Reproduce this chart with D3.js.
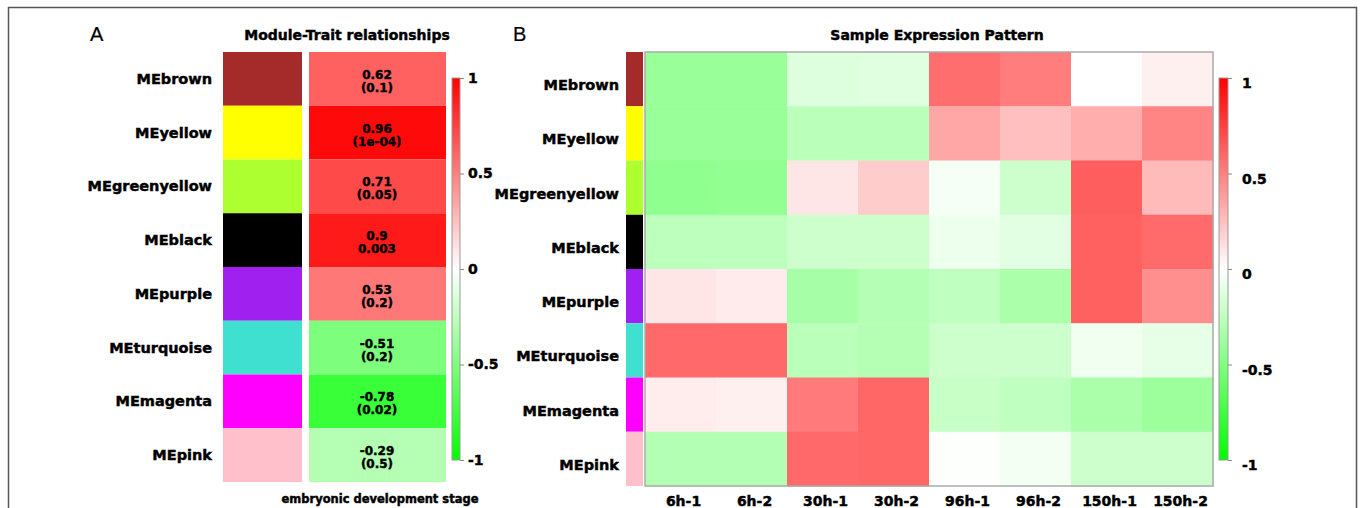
<!DOCTYPE html>
<html>
<head>
<meta charset="utf-8">
<script src="https://cdn.jsdelivr.net/npm/d3@7/dist/d3.min.js"></script>
<style>
  body { margin: 0; background: #fff; }
  text { font-family: "DejaVu Sans", sans-serif; font-weight: bold; fill: #000; stroke: #000; stroke-width: 0.45px; }
  .panel-letter { font-family: "Liberation Sans", Arial, sans-serif; font-weight: normal; font-size: 20px; stroke-width: 0.2px; }
</style>
</head>
<body>
<script>
// module eigengenes
var modules = ["MEbrown", "MEyellow", "MEgreenyellow", "MEblack", "MEpurple", "MEturquoise", "MEmagenta", "MEpink"];
var moduleColors = ["#A52A2A", "#FFFF00", "#ADFF2F", "#000000", "#A020F0", "#40E0D0", "#FF00FF", "#FFC0CB"];

// panel A: correlation with embryonic development stage, and p value labels
var traitCor = [0.62, 0.96, 0.71, 0.9, 0.53, -0.51, -0.78, -0.29];
var traitP = ["(0.1)", "(1e-04)", "(0.05)", "0.003", "(0.2)", "(0.2)", "(0.02)", "(0.5)"];

// panel B: samples and eigengene expression per module
var samples = ["6h-1", "6h-2", "30h-1", "30h-2", "96h-1", "96h-2", "150h-1", "150h-2"];
var exprBrown       = [-0.40, -0.40, -0.13, -0.12,  0.57,  0.51,  0.00,  0.06];
var exprYellow      = [-0.40, -0.40, -0.27, -0.27,  0.35,  0.25,  0.32,  0.48];
var exprGreenyellow = [-0.44, -0.43,  0.10,  0.20, -0.04, -0.20,  0.63,  0.27];
var exprBlack       = [-0.26, -0.26, -0.20, -0.20, -0.07, -0.11,  0.62,  0.58];
var exprPurple      = [ 0.10,  0.08, -0.35, -0.30, -0.25, -0.33,  0.62,  0.44];
var exprTurquoise   = [ 0.59,  0.59, -0.27, -0.29, -0.20, -0.20, -0.06, -0.10];
var exprMagenta     = [ 0.07,  0.06,  0.52,  0.60, -0.22, -0.25, -0.33, -0.39];
var exprPink        = [-0.30, -0.30,  0.59,  0.60, -0.01, -0.05, -0.20, -0.20];
var expression = [exprBrown, exprYellow, exprGreenyellow, exprBlack, exprPurple, exprTurquoise, exprMagenta, exprPink];

var legendTicks = [1, 0.5, 0, -0.5, -1];

var W = 1360, H = 508;

var svg = d3.select("body").append("svg")
  .attr("width", W)
  .attr("height", H);

// frame
svg.append("path")
  .attr("d", "M8.5," + H + "V7.5H1356.5V" + H)
  .attr("fill", "none")
  .attr("stroke", "#555")
  .attr("stroke-width", 1.5);

var color = d3.scaleLinear()
  .domain([-1, 0, 1])
  .range(["#00FF00", "#FFFFFF", "#FF0000"]);

function colorBar(id, x, w, labelGap, labelDy) {
  var grad = svg.append("defs").append("linearGradient")
    .attr("id", id)
    .attr("x1", 0).attr("x2", 0).attr("y1", 1).attr("y2", 0);
  d3.range(0, 1.0001, 0.1).forEach(function (t) {
    grad.append("stop").attr("offset", t).attr("stop-color", color(-1 + 2 * t));
  });
  var y = d3.scaleLinear().domain([-1, 1]).range([460, 78]);
  svg.append("rect")
    .attr("x", x).attr("y", y(1))
    .attr("width", w).attr("height", y(-1) - y(1))
    .attr("fill", "url(#" + id + ")")
    .attr("stroke", "#999")
    .attr("stroke-width", 1);
  var ax = svg.append("g")
    .attr("transform", "translate(" + (x + w) + ",0)")
    .call(d3.axisRight(y).tickValues(legendTicks).tickSize(4).tickPadding(labelGap)
      .tickFormat(function (d) { return String(d); }));
  ax.select(".domain").remove();
  ax.selectAll(".tick line").attr("stroke", "#888");
  ax.selectAll(".tick text")
    .attr("font-family", "DejaVu Sans")
    .attr("font-size", 14)
    .attr("font-weight", "bold")
    .attr("dy", labelDy);
}

// ---------- panel A ----------
svg.append("text").attr("class", "panel-letter").attr("x", 90).attr("y", 41).text("A");
svg.append("text")
  .attr("x", 347).attr("y", 40)
  .attr("text-anchor", "middle")
  .attr("font-size", 14)
  .text("Module-Trait relationships");

var yA = d3.scaleBand().domain(modules).range([52, 482]);

svg.append("g").selectAll("rect")
  .data(modules).enter().append("rect")
    .attr("x", 223).attr("width", 79)
    .attr("y", function (d) { return yA(d); })
    .attr("height", yA.bandwidth())
    .attr("fill", function (d, i) { return moduleColors[i]; });

svg.append("g").selectAll("rect")
  .data(modules).enter().append("rect")
    .attr("x", 309).attr("width", 137)
    .attr("y", function (d) { return yA(d); })
    .attr("height", yA.bandwidth())
    .attr("fill", function (d, i) { return color(traitCor[i]); });

svg.append("g").selectAll("text")
  .data(modules).enter().append("text")
    .attr("x", 212)
    .attr("y", function (d) { return yA(d) + yA.bandwidth() / 2 + 5; })
    .attr("text-anchor", "end")
    .attr("font-size", 14.5)
    .text(function (d) { return d; });

var cellA = svg.append("g").selectAll("g")
  .data(modules).enter().append("g");
cellA.append("text")
  .attr("x", 377)
  .attr("y", function (d) { return yA(d) + yA.bandwidth() / 2; })
  .attr("text-anchor", "middle")
  .attr("font-size", 12)
  .text(function (d, i) { return String(traitCor[i]); });
cellA.append("text")
  .attr("x", 377)
  .attr("y", function (d) { return yA(d) + yA.bandwidth() / 2 + 13; })
  .attr("text-anchor", "middle")
  .attr("font-size", 12)
  .text(function (d, i) { return traitP[i]; });

svg.append("text")
  .attr("x", 380).attr("y", 503)
  .attr("text-anchor", "middle")
  .attr("font-size", 11.5)
  .text("embryonic development stage");

colorBar("gradA", 452, 8, 4, "0.32em");

// ---------- panel B ----------
svg.append("text").attr("class", "panel-letter").attr("x", 513).attr("y", 41).text("B");
svg.append("text")
  .attr("x", 937).attr("y", 40)
  .attr("text-anchor", "middle")
  .attr("font-size", 14)
  .text("Sample Expression Pattern");

var yB = d3.scaleBand().domain(modules).range([52, 486]);
var xB = d3.scaleBand().domain(samples).range([645, 1213]);

svg.append("g").selectAll("rect")
  .data(modules).enter().append("rect")
    .attr("x", 626).attr("width", 17)
    .attr("y", function (d) { return yB(d); })
    .attr("height", yB.bandwidth())
    .attr("fill", function (d, i) { return moduleColors[i]; });

var rowsB = svg.append("g").selectAll("g")
  .data(expression).enter().append("g")
    .attr("transform", function (d, i) { return "translate(0," + yB(modules[i]) + ")"; });
rowsB.selectAll("rect")
  .data(function (d) { return d; }).enter().append("rect")
    .attr("x", function (d, j) { return xB(samples[j]); })
    .attr("width", xB.bandwidth() + 0.5)
    .attr("height", yB.bandwidth() + 0.5)
    .attr("fill", function (d) { return color(d); });

svg.append("rect")
  .attr("x", 645).attr("y", 52)
  .attr("width", 1213 - 645).attr("height", 486 - 52)
  .attr("fill", "none")
  .attr("stroke", "#aaa")
  .attr("stroke-width", 1.5);

svg.append("g").selectAll("text")
  .data(modules).enter().append("text")
    .attr("x", 619)
    .attr("y", function (d) { return yB(d) + yB.bandwidth() / 2 + 11; })
    .attr("text-anchor", "end")
    .attr("font-size", 14.5)
    .text(function (d) { return d; });

var xAxisB = svg.append("g")
  .attr("transform", "translate(3,486)")
  .call(d3.axisBottom(xB).tickSize(0).tickPadding(10));
xAxisB.select(".domain").remove();
xAxisB.selectAll(".tick text")
  .attr("font-family", "DejaVu Sans")
  .attr("font-size", 14)
  .attr("font-weight", "bold");

colorBar("gradB", 1219, 9, 10, "0.7em");
</script>
</body>
</html>
